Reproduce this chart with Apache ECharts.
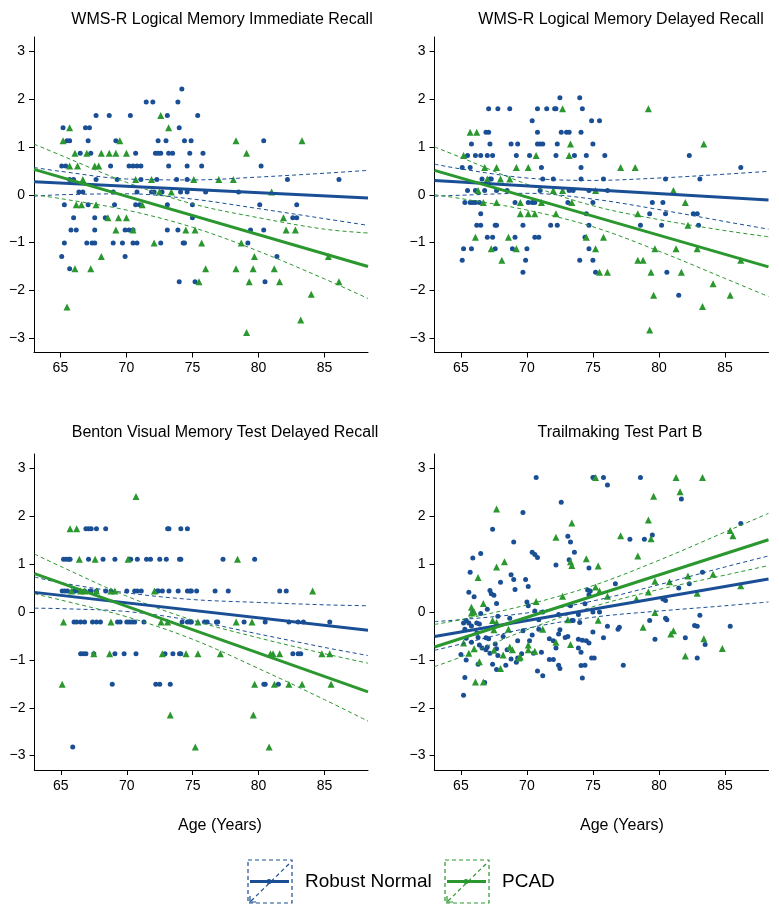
<!DOCTYPE html>
<html>
<head>
<meta charset="utf-8">
<script src="https://cdn.jsdelivr.net/npm/echarts@6/dist/echarts.min.js"></script>
<style>
html,body{margin:0;padding:0;background:#fff;}
#chart{width:779px;height:913px;}
</style>
</head>
<body>
<div id="chart"></div>
<script>
// ---------- tick labels ----------
const ageTicks = [65, 70, 75, 80, 85];
const zTicks = [-3, -2, -1, 0, 1, 2, 3];
const panelTitles = ['WMS-R Logical Memory Immediate Recall', 'WMS-R Logical Memory Delayed Recall',
  'Benton Visual Memory Test Delayed Recall', 'Trailmaking Test Part B'];
const xAxisName = 'Age (Years)';
const groupNames = ['Robust Normal', 'PCAD'];

// ages at which fitted lines / confidence bands are read
const fitAge = [63, 88.3];
const ciAge = [63, 65, 70, 75, 80, 85, 88.3];

// ---------- Panel 1: WMS-R Logical Memory Immediate Recall ----------
const immNormalPts = [
[74.2,2.21],
[71.5,1.94],[72.0,1.94],[73.9,1.94],
[67.7,1.66],[68.7,1.66],[70.3,1.66],[73.1,1.66],[75.4,1.66],
[65.2,1.40],[66.9,1.40],[67.2,1.40],[74.0,1.40],
[65.5,1.13],[65.7,1.13],[67.1,1.13],[69.2,1.13],[72.4,1.13],[73.0,1.13],[74.4,1.13],[74.9,1.13],[80.4,1.13],
[66.5,0.87],[67.3,0.87],[70.7,0.87],[72.2,0.87],[72.4,0.87],[72.6,0.87],[73.2,0.87],[73.5,0.87],[74.8,0.87],[75.8,0.87],
[65.1,0.60],[65.4,0.60],[68.8,0.60],[70.2,0.60],[70.5,0.60],[70.8,0.60],[71.1,0.60],[73.2,0.60],[74.6,0.60],[75.7,0.60],[80.2,0.60],
[65.7,0.32],[66.0,0.32],[67.7,0.32],[69.3,0.32],[71.1,0.32],[72.3,0.32],[73.8,0.32],[74.6,0.32],[82.2,0.32],[86.1,0.32],
[66.4,0.06],[66.7,0.06],[69.0,0.06],[70.8,0.06],[71.9,0.06],[72.1,0.06],[72.7,0.06],[74.1,0.06],[74.6,0.06],[76.0,0.06],[78.5,0.06],
[65.3,-0.21],[67.1,-0.21],[69.1,-0.21],[70.7,-0.21],[71.0,-0.21],[73.1,-0.21],[75.0,-0.21],[80.1,-0.21],[82.9,-0.21],
[66.0,-0.48],[67.6,-0.48],[68.4,-0.48],[75.0,-0.48],[82.6,-0.48],[82.9,-0.48],
[65.8,-0.74],[66.2,-0.74],[67.6,-0.74],[69.9,-0.74],[70.2,-0.74],[70.5,-0.74],[73.1,-0.74],[73.9,-0.74],[79.4,-0.74],[80.4,-0.74],
[65.3,-1.01],[67.0,-1.01],[67.4,-1.01],[67.6,-1.01],[69.0,-1.01],[69.7,-1.01],[70.5,-1.01],[70.8,-1.01],[72.6,-1.01],[74.3,-1.01],[74.4,-1.01],[79.2,-1.01],
[65.1,-1.29],[69.9,-1.29],[81.4,-1.29],
[65.7,-1.55],
[74.0,-1.82],[75.2,-1.82],[80.5,-1.82]
];
const immPcadPts = [
[72.6,1.66],
[65.7,1.40],[73.2,1.40],
[65.2,1.13],[69.5,1.13],[78.3,1.13],[83.3,1.13],
[66.1,0.87],[67.0,0.87],[68.1,0.87],[68.7,0.87],[69.2,0.87],[70.0,0.87],[79.1,0.87],
[65.7,0.60],[66.3,0.60],[67.6,0.60],[67.9,0.60],
[66.7,0.32],[70.7,0.32],[71.9,0.32],[75.1,0.32],[77.0,0.32],[78.1,0.32],
[72.5,0.06],[73.4,0.06],[81.0,0.06],
[66.2,-0.21],[66.6,-0.21],[67.7,-0.21],[71.2,-0.21],
[68.6,-0.48],[69.4,-0.48],[70.0,-0.48],[81.9,-0.48],
[69.2,-0.74],[70.5,-0.74],[74.5,-0.74],[75.2,-0.74],[82.1,-0.74],[82.8,-0.74],
[72.1,-1.01],[75.7,-1.01],[78.7,-1.01],
[68.1,-1.29],[79.7,-1.29],[85.3,-1.29],
[66.1,-1.55],[67.3,-1.55],[76.0,-1.55],[78.3,-1.55],[79.6,-1.55],[81.2,-1.55],
[75.5,-1.82],[79.3,-1.82],[81.6,-1.82],[86.1,-1.82],
[84.0,-2.08],[65.5,-2.35],[83.2,-2.62],[79.1,-2.88]
];
const immNormalFit = [0.27, -0.07];
const immPcadFit = [0.53, -1.50];
const immNormalUpper = [0.57, 0.49, 0.33, 0.31, 0.37, 0.45, 0.51];
const immNormalLower = [-0.03, 0.00, 0.02, -0.09, -0.29, -0.50, -0.64];
const immPcadUpper = [1.06, 0.83, 0.26, -0.19, -0.48, -0.72, -0.80];
const immPcadLower = [0.00, -0.08, -0.32, -0.68, -1.18, -1.76, -2.17];

// ---------- Panel 2: WMS-R Logical Memory Delayed Recall ----------
const delNormalPts = [
[72.5,2.03],[74.0,2.03],
[67.1,1.80],[67.8,1.80],[68.7,1.80],[70.8,1.80],[71.5,1.80],[72.1,1.80],[72.2,1.80],[74.2,1.80],
[70.4,1.55],[74.9,1.55],[75.5,1.55],
[66.9,1.31],[67.1,1.31],[70.8,1.31],[72.6,1.31],[73.0,1.31],[73.2,1.31],[74.1,1.31],
[65.8,1.06],[67.2,1.06],[68.8,1.06],[69.3,1.06],[70.8,1.06],[71.0,1.06],[71.2,1.06],[72.3,1.06],[75.0,1.06],
[65.5,0.82],[66.1,0.82],[66.5,0.82],[67.0,0.82],[67.4,0.82],[69.2,0.82],[70.2,0.82],[72.2,0.82],[73.6,0.82],[74.5,0.82],[75.9,0.82],[82.3,0.82],
[65.1,0.57],[65.7,0.57],[71.1,0.57],[74.1,0.57],[86.2,0.57],
[66.6,0.33],[67.2,0.33],[67.3,0.33],[71.2,0.33],[72.0,0.33],[74.1,0.33],[75.8,0.33],[80.5,0.33],[83.1,0.33],
[65.5,0.09],[66.1,0.09],[66.8,0.09],[67.7,0.09],[68.5,0.09],[71.0,0.09],[73.2,0.09],[73.5,0.09],[74.7,0.09],[76.1,0.09],
[65.3,-0.16],[65.7,-0.16],[65.9,-0.16],[66.1,-0.16],[66.4,-0.16],[69.1,-0.16],[70.1,-0.16],[70.4,-0.16],[70.6,-0.16],[73.1,-0.16],[75.0,-0.16],[79.5,-0.16],[80.3,-0.16],
[66.5,-0.40],[74.5,-0.40],[79.3,-0.40],[80.5,-0.40],[82.6,-0.40],[82.9,-0.40],
[66.2,-0.64],[66.5,-0.64],[67.6,-0.64],[67.7,-0.64],[69.7,-0.64],[71.8,-0.64],[72.3,-0.64],[74.7,-0.64],[78.6,-0.64],[80.2,-0.64],[83.0,-0.64],
[67.0,-0.89],[67.4,-0.89],[69.1,-0.89],[70.6,-0.89],[70.9,-0.89],[74.4,-0.89],
[65.2,-1.13],[65.8,-1.13],[67.6,-1.13],[68.9,-1.13],[70.0,-1.13],[74.7,-1.13],
[65.1,-1.37],[69.9,-1.37],[74.0,-1.37],[75.0,-1.37],
[69.7,-1.62],[75.2,-1.62],[80.6,-1.62],
[81.5,-2.10]
];
const delPcadPts = [
[72.7,1.80],[79.2,1.80],
[65.7,1.31],[66.2,1.31],
[73.3,1.06],[83.4,1.06],
[65.2,0.82],[70.7,0.82],[73.2,0.82],
[66.8,0.57],[67.7,0.57],[69.2,0.57],[70.1,0.57],[77.1,0.57],[78.2,0.57],
[67.0,0.33],[68.0,0.33],[68.7,0.33],
[66.3,0.09],[72.0,0.09],[72.7,0.09],[75.2,0.09],[81.1,0.09],
[66.7,-0.16],[67.7,-0.16],[69.5,-0.16],[71.1,-0.16],[73.4,-0.16],[82.0,-0.16],
[69.5,-0.40],[70.1,-0.40],[70.6,-0.40],[72.2,-0.40],[78.4,-0.40],
[82.2,-0.64],
[66.1,-0.89],[68.6,-0.89],[74.5,-0.89],[75.8,-0.89],
[67.3,-1.13],[69.2,-1.13],[75.2,-1.13],[79.7,-1.13],[81.3,-1.13],[82.9,-1.13],
[68.1,-1.37],[78.4,-1.37],[78.8,-1.37],[86.2,-1.37],
[75.5,-1.62],[76.1,-1.62],[79.4,-1.62],[81.7,-1.62],
[84.1,-1.86],[79.6,-2.10],[85.4,-2.10],[83.3,-2.34],[79.3,-2.83]
];
const delNormalFit = [0.30, -0.11];
const delPcadFit = [0.51, -1.51];
const delNormalUpper = [0.64, 0.54, 0.35, 0.30, 0.35, 0.43, 0.49];
const delNormalLower = [-0.03, -0.01, 0.03, -0.09, -0.31, -0.56, -0.72];
const delPcadUpper = [1.00, 0.78, 0.22, -0.23, -0.52, -0.75, -0.88];
const delPcadLower = [0.00, -0.08, -0.32, -0.67, -1.18, -1.75, -2.13];

// ---------- Panel 3: Benton Visual Memory Test Delayed Recall ----------
const bvNormalPts = [
[66.9,1.74],[67.1,1.74],[67.3,1.74],[67.7,1.74],[68.4,1.74],[73.1,1.74],[73.2,1.74],[74.1,1.74],[74.6,1.74],
[65.2,1.10],[65.4,1.10],[65.6,1.10],[65.7,1.10],[67.1,1.10],[68.2,1.10],[69.1,1.10],[70.2,1.10],[70.3,1.10],[70.8,1.10],[71.5,1.10],[71.8,1.10],[72.5,1.10],[73.0,1.10],[74.0,1.10],[74.1,1.10],[77.3,1.10],[79.7,1.10],
[65.1,0.44],[65.3,0.44],[65.5,0.44],[66.0,0.44],[66.1,0.44],[66.4,0.44],[66.8,0.44],[67.2,0.44],[67.3,0.44],[67.7,0.44],[68.4,0.44],[68.8,0.44],[70.0,0.44],[70.6,0.44],[70.8,0.44],[71.1,0.44],[72.3,0.44],[72.4,0.44],[72.7,0.44],[73.2,0.44],[73.9,0.44],[74.6,0.44],[74.8,0.44],[74.9,0.44],[75.3,0.44],[76.7,0.44],[77.7,0.44],[81.6,0.44],[82.1,0.44],
[66.0,-0.21],[66.2,-0.21],[66.5,-0.21],[66.8,-0.21],[67.4,-0.21],[67.7,-0.21],[68.0,-0.21],[69.3,-0.21],[69.5,-0.21],[70.0,-0.21],[70.2,-0.21],[70.4,-0.21],[70.6,-0.21],[71.3,-0.21],[74.2,-0.21],[74.6,-0.21],[74.8,-0.21],[74.9,-0.21],[75.9,-0.21],[76.1,-0.21],[76.8,-0.21],[76.9,-0.21],[78.9,-0.21],[80.5,-0.21],[82.3,-0.21],[83.0,-0.21],[83.4,-0.21],[85.4,-0.21],
[66.5,-0.87],[66.7,-0.87],[66.9,-0.87],[67.5,-0.87],[69.1,-0.87],[69.8,-0.87],[70.7,-0.87],[72.9,-0.87],[73.5,-0.87],[74.0,-0.87],[74.1,-0.87],[82.6,-0.87],[83.0,-0.87],[83.2,-0.87],
[68.9,-1.51],[72.2,-1.51],[72.5,-1.51],[73.3,-1.51],[80.4,-1.51],[80.5,-1.51],[81.5,-1.51],
[65.9,-2.82]
];
const bvPcadPts = [
[70.7,2.41],
[65.7,1.74],[66.2,1.74],
[66.4,1.10],[67.6,1.10],[70.1,1.10],[78.4,1.10],
[65.8,0.44],[66.5,0.44],[66.8,0.44],[67.7,0.44],[68.8,0.44],[69.1,0.44],[72.1,0.44],[84.1,0.44],
[65.2,-0.21],[68.8,-0.21],[72.6,-0.21],[73.1,-0.21],[75.4,-0.21],[78.3,-0.21],[79.5,-0.21],
[67.5,-0.87],[68.7,-0.87],[72.7,-0.87],[74.5,-0.87],[75.4,-0.87],[77.1,-0.87],[80.9,-0.87],[81.1,-0.87],[81.6,-0.87],[84.8,-0.87],[85.4,-0.87],
[65.1,-1.51],[79.7,-1.51],[81.2,-1.51],[82.3,-1.51],[83.3,-1.51],[85.5,-1.51],
[73.3,-2.15],[79.6,-2.15],
[75.2,-2.82],[80.8,-2.82]
];
const bvNormalFit = [0.41, -0.38];
const bvPcadFit = [0.80, -1.67];
const bvNormalUpper = [0.73, 0.61, 0.40, 0.26, 0.20, 0.15, 0.13];
const bvNormalLower = [0.08, 0.07, 0.01, -0.18, -0.46, -0.74, -0.91];
const bvPcadUpper = [1.21, 0.95, 0.33, -0.17, -0.54, -0.87, -1.07];
const bvPcadLower = [0.38, 0.25, -0.10, -0.57, -1.18, -1.83, -2.28];

// ---------- Panel 4: Trailmaking Test Part B ----------
const tmtNormalPts = [
[70.7,2.81],[75.0,2.81],[75.1,2.81],[75.8,2.81],[78.6,2.81],[76.1,2.65],[72.6,2.29],[81.7,2.36],[69.7,2.08],[67.4,1.73],
[86.2,1.85],[79.5,1.61],[73.1,1.58],[77.8,1.52],[78.9,1.52],[73.3,1.46],[69.0,1.46],[73.6,1.25],[70.4,1.25],[70.6,1.20],
[70.8,1.14],[66.5,1.22],[65.9,1.13],[72.2,0.98],[73.2,1.09],[74.7,0.92],[65.7,0.83],[83.3,0.83],[68.8,0.78],[69.0,0.68],
[69.9,0.68],[68.0,0.62],[76.7,0.59],[82.3,0.59],[70.1,0.53],[81.5,0.50],[69.1,0.47],[67.2,0.45],[65.6,0.41],[67.3,0.38],
[67.5,0.35],[66.0,0.32],[74.7,0.36],[74.8,0.44],[74.6,0.46],[80.3,0.27],[80.5,0.24],[67.7,0.18],[74.4,0.17],[70.0,0.21],
[67.0,0.06],[70.6,0.02],[70.1,0.13],[73.3,0.13],[75.0,0.00],[75.5,0.00],[73.9,-0.05],[65.9,0.00],[66.5,-0.03],[71.2,0.00],
[72.4,-0.05],[83.1,-0.07],[65.4,-0.18],[65.2,-0.23],[65.6,-0.23],[66.2,-0.23],[66.4,-0.25],[65.8,-0.29],[67.8,-0.09],[68.7,-0.13],
[70.9,-0.16],[73.4,-0.18],[73.5,-0.18],[79.3,-0.18],[80.5,-0.13],[80.6,-0.16],[74.0,-0.22],[76.1,-0.30],[77.0,-0.32],[76.9,-0.36],
[82.7,-0.28],[82.9,-0.30],[85.4,-0.30],[65.3,-0.36],[72.5,-0.37],[70.9,-0.36],[69.7,-0.39],[75.0,-0.42],[72.4,-0.46],[71.7,-0.56],
[70.4,-0.48],[82.0,-0.54],[75.8,-0.54],[74.5,-0.60],[74.7,-0.65],[72.0,-0.60],[65.4,-0.55],[65.8,-0.63],[66.2,-0.44],[66.3,-0.53],
[66.9,-0.54],[67.1,-0.56],[68.2,-0.51],[69.3,-0.60],[70.2,-0.60],[72.9,-0.53],[73.1,-0.51],[73.9,-0.57],[74.2,-0.59],[79.7,-0.57],
[83.5,-0.68],[66.4,-0.69],[66.6,-0.75],[66.9,-0.79],[67.0,-0.73],[67.6,-0.67],[67.7,-0.77],[68.5,-0.79],[70.5,-0.86],[72.2,-0.75],
[73.9,-0.75],[74.1,-0.84],[67.2,-0.86],[67.8,-0.91],[65.0,-0.89],[65.4,-1.00],[66.3,-1.09],[67.4,-1.09],[68.4,-1.11],[68.8,-0.98],
[69.2,-1.05],[69.3,-0.96],[69.6,-0.87],[71.1,-0.84],[71.7,-0.99],[72.0,-0.99],[72.4,-1.11],[72.5,-1.18],[74.9,-0.96],[75.1,-0.96],
[74.1,-1.12],[74.4,-1.11],[77.3,-1.11],[82.9,-0.96],[67.7,-1.20],[70.8,-1.23],[71.2,-1.33],[74.2,-1.38],[65.3,-1.37],[66.8,-1.47],
[65.2,-1.74]
];
const tmtPcadPts = [
[75.2,2.81],[81.3,2.81],[83.3,2.81],[81.6,2.51],[79.6,2.42],[67.7,2.15],[79.2,1.92],[73.4,1.86],[85.4,1.70],[85.6,1.59],
[72.2,1.56],[77.1,1.59],[79.4,1.53],[74.5,1.11],[78.4,1.17],[68.3,1.05],[73.3,1.05],[73.4,0.97],[75.4,0.96],[67.7,0.94],
[66.3,0.72],[84.1,0.79],[82.2,0.75],[79.7,0.64],[80.8,0.63],[86.2,0.55],[75.2,0.52],[75.5,0.44],[79.2,0.42],[82.9,0.39],
[72.7,0.33],[76.1,0.33],[78.3,0.27],[66.7,0.18],[70.7,0.22],[65.8,0.10],[65.8,-0.02],[66.0,0.00],[79.7,-0.01],[73.1,-0.16],
[75.4,-0.17],[67.4,-0.18],[67.7,-0.22],[71.2,-0.36],[78.8,-0.32],[81.1,-0.39],[80.9,-0.46],[83.4,-0.56],[68.6,-0.36],[67.5,-0.37],
[72.2,-0.63],[73.3,-0.68],[65.2,-0.65],[68.7,-0.73],[68.9,-0.79],[70.1,-0.69],[70.1,-0.79],[70.6,-0.82],[66.0,-0.77],[67.5,-0.80],
[84.8,-0.76],[65.6,-0.86],[82.0,-0.92],[69.5,-0.94],[68.2,-0.90],[66.4,-1.04],[69.4,-0.96],[68.0,-1.18],[66.1,-1.46],[66.7,-1.46]
];
const tmtNormalFit = [-0.51, 0.69];
const tmtPcadFit = [-0.73, 1.51];
const tmtNormalUpper = [-0.20, -0.16, -0.02, 0.23, 0.57, 0.94, 1.17];
const tmtNormalLower = [-0.80, -0.67, -0.34, -0.11, 0.02, 0.13, 0.21];
const tmtPcadUpper = [-0.26, -0.16, 0.15, 0.55, 1.08, 1.67, 2.06];
const tmtPcadLower = [-1.14, -0.94, -0.37, 0.11, 0.47, 0.77, 0.97];

// ---------- build ----------
const BLUE = '#1a4f95';
const GREEN = '#2b972f';
const FONT = '"Liberation Sans", Arial, Helvetica, sans-serif';

const panels = [
  {nPts: immNormalPts, pPts: immPcadPts, nFit: immNormalFit, pFit: immPcadFit, nU: immNormalUpper, nL: immNormalLower, pU: immPcadUpper, pL: immPcadLower},
  {nPts: delNormalPts, pPts: delPcadPts, nFit: delNormalFit, pFit: delPcadFit, nU: delNormalUpper, nL: delNormalLower, pU: delPcadUpper, pL: delPcadLower},
  {nPts: bvNormalPts, pPts: bvPcadPts, nFit: bvNormalFit, pFit: bvPcadFit, nU: bvNormalUpper, nL: bvNormalLower, pU: bvPcadUpper, pL: bvPcadLower},
  {nPts: tmtNormalPts, pPts: tmtPcadPts, nFit: tmtNormalFit, pFit: tmtPcadFit, nU: tmtNormalUpper, nL: tmtNormalLower, pU: tmtPcadUpper, pL: tmtPcadLower}
];

const gridBoxes = [
  {left: 34, top: 37, width: 334, height: 315.5},
  {left: 434.5, top: 37, width: 334, height: 315.5},
  {left: 34.5, top: 454, width: 333.5, height: 316},
  {left: 434.5, top: 454, width: 334, height: 316}
];
const titlePos = [[217, 7], [616, 7], [220, 420], [615, 420]];

const zip = (xs, ys) => xs.map((x, i) => [x, ys[i]]);
const fmtMinus = v => (v < 0 ? '\u2212' + Math.abs(v) : String(v));

const grid = [], xAxis = [], yAxis = [], series = [], title = [];
panels.forEach((p, i) => {
  grid.push(Object.assign({containLabel: false}, gridBoxes[i]));
  xAxis.push({
    type: 'value', gridIndex: i, min: 63, max: 88.3,
    axisLine: {show: true, onZero: false, lineStyle: {color: '#000', width: 1}},
    axisTick: {show: true, length: 5, customValues: ageTicks, lineStyle: {color: '#000'}},
    axisLabel: {show: true, customValues: ageTicks, color: '#000', fontSize: 14, fontFamily: FONT, margin: 9},
    splitLine: {show: false}
  });
  yAxis.push({
    type: 'value', gridIndex: i, min: -3.3, max: 3.3,
    axisLine: {show: true, onZero: false, lineStyle: {color: '#000', width: 1}},
    axisTick: {show: true, length: 5, customValues: zTicks, lineStyle: {color: '#000'}},
    axisLabel: {show: true, customValues: zTicks, color: '#000', fontSize: 14, fontFamily: FONT, margin: 9, formatter: fmtMinus},
    splitLine: {show: false}
  });
  title.push({
    text: panelTitles[i], left: titlePos[i][0], top: titlePos[i][1], textAlign: 'center',
    textStyle: {fontSize: 16, fontWeight: 'normal', color: '#000', fontFamily: FONT}
  });
  series.push({
    type: 'scatter', name: groupNames[0], xAxisIndex: i, yAxisIndex: i, data: p.nPts,
    symbol: 'circle', symbolSize: 5, itemStyle: {color: BLUE, opacity: 1}, z: 2
  });
  series.push({
    type: 'scatter', name: groupNames[1], xAxisIndex: i, yAxisIndex: i, data: p.pPts,
    symbol: 'triangle', symbolSize: 7, itemStyle: {color: GREEN, opacity: 1}, z: 2
  });
  [[p.nU, BLUE], [p.nL, BLUE], [p.pU, GREEN], [p.pL, GREEN]].forEach(([vals, c]) => {
    series.push({
      type: 'line', xAxisIndex: i, yAxisIndex: i, data: zip(ciAge, vals), smooth: 0.35,
      symbol: 'none', lineStyle: {color: c, width: 1, type: [4, 3]}, z: 3, silent: true
    });
  });
  [[p.nFit, BLUE], [p.pFit, GREEN]].forEach(([vals, c]) => {
    series.push({
      type: 'line', xAxisIndex: i, yAxisIndex: i, data: zip(fitAge, vals),
      symbol: 'none', lineStyle: {color: c, width: 3}, z: 4, silent: true
    });
  });
});

title.push({text: xAxisName, left: 215, top: 813, textAlign: 'center',
  textStyle: {fontSize: 16, fontWeight: 'normal', color: '#000', fontFamily: FONT}});
title.push({text: xAxisName, left: 617, top: 813, textAlign: 'center',
  textStyle: {fontSize: 16, fontWeight: 'normal', color: '#000', fontFamily: FONT}});

// legend keys drawn as graphics
function legendKey(x0, color, label) {
  const y0 = 860, w = 44, h = 43, cy = y0 + h / 2;
  return [
    {type: 'rect', shape: {x: x0, y: y0, width: w, height: h}, style: {fill: null, stroke: color, lineWidth: 1.2, lineDash: [4, 3]}},
    {type: 'line', shape: {x1: x0 + 3, y1: y0 + h - 2, x2: x0 + w - 2, y2: y0 + 3}, style: {stroke: color, lineWidth: 1.2, lineDash: [4, 3]}},
    {type: 'polyline', shape: {points: [[x0 + 2, y0 + h - 7], [x0 + 2, y0 + h - 1], [x0 + 8, y0 + h - 1]]}, style: {stroke: color, lineWidth: 1.2, fill: null}},
    {type: 'line', shape: {x1: x0 + 2, y1: cy, x2: x0 + w - 3, y2: cy}, style: {stroke: color, lineWidth: 3}},
    {type: 'circle', shape: {cx: x0 + w / 2 - 1, cy: cy, r: 2.5}, style: {fill: color}},
    {type: 'text', x: x0 + w + 13, y: cy, style: {text: label, fill: '#000', font: '19px ' + FONT, textVerticalAlign: 'middle', verticalAlign: 'middle'}}
  ];
}
const graphic = [].concat(legendKey(248, BLUE, groupNames[0]), legendKey(445, GREEN, groupNames[1]));

const chart = echarts.init(document.getElementById('chart'), null, {renderer: 'canvas'});
chart.setOption({
  animation: false,
  backgroundColor: '#fff',
  title, grid, xAxis, yAxis, series, graphic
});
</script>
</body>
</html>
